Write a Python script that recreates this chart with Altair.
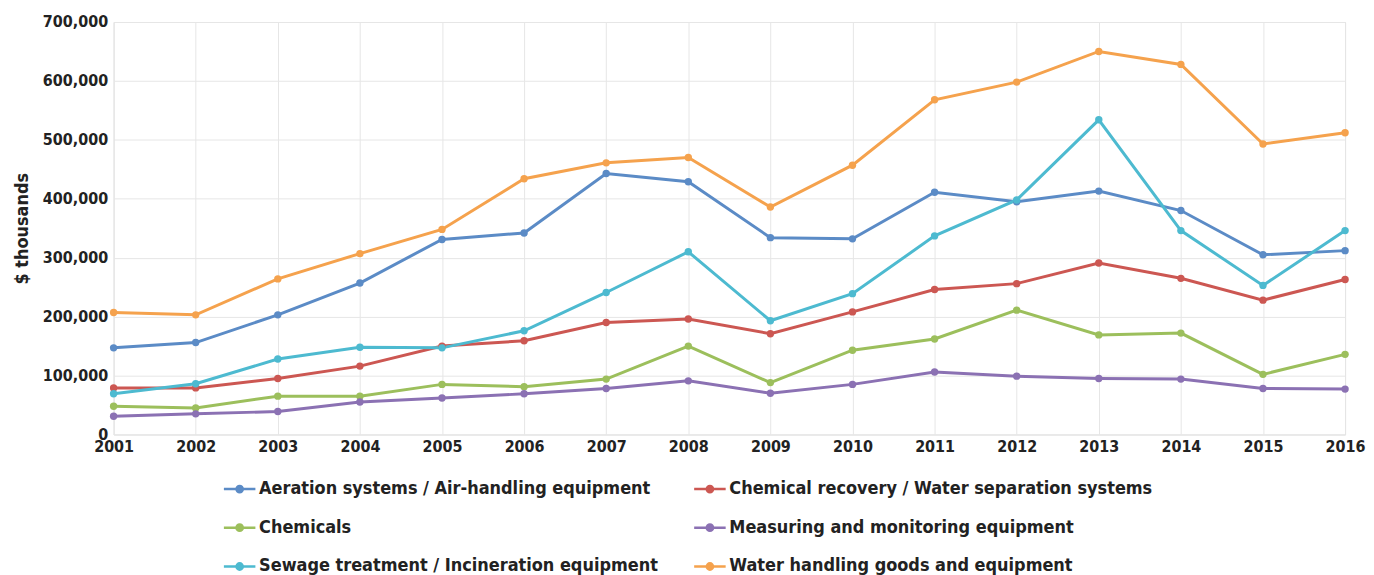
import altair as alt
import pandas as pd

years = list(range(2001, 2017))
series_names = [
    "Aeration systems / Air-handling equipment",
    "Chemical recovery / Water separation systems",
    "Chemicals",
    "Measuring and monitoring equipment",
    "Sewage treatment / Incineration equipment",
    "Water handling goods and equipment",
]
aeration = [147000, 156000, 203000, 257000, 331000, 342000, 443000, 429000, 334000, 332000, 411000, 395000, 413000, 380000, 305000, 312000]
chem_recovery = [79000, 79000, 95000, 116000, 150000, 159000, 190000, 196000, 171000, 208000, 246000, 256000, 291000, 265000, 228000, 263000]
chemicals = [48000, 45000, 65000, 65000, 85000, 81000, 94000, 150000, 88000, 143000, 162000, 211000, 169000, 172000, 102000, 136000]
measuring = [31000, 35000, 39000, 55000, 62000, 69000, 78000, 91000, 70000, 85000, 106000, 99000, 95000, 94000, 78000, 77000]
sewage = [69000, 86000, 128000, 148000, 147000, 176000, 241000, 310000, 193000, 239000, 337000, 398000, 534000, 346000, 253000, 346000]
water = [207000, 203000, 264000, 307000, 348000, 434000, 461000, 470000, 386000, 457000, 568000, 598000, 650000, 628000, 493000, 512000]
colors = ["#5b8bc6", "#cc5752", "#9cbf5c", "#8b71b3", "#4dbad0", "#f5a24d"]
y_ticks = [0, 100000, 200000, 300000, 400000, 500000, 600000, 700000]

all_series = [aeration, chem_recovery, chemicals, measuring, sewage, water]
rows = []
for name, vals in zip(series_names, all_series):
    for y, v in zip(years, vals):
        rows.append({"Year": y, "Value": v, "Series": name})
df = pd.DataFrame(rows)

# legend is filled column by column, so order the domain to read row-wise
legend_order = [0, 2, 4, 1, 3, 5]
domain = [series_names[i] for i in legend_order]
rng = [colors[i] for i in legend_order]

FONT = "DejaVu Sans Condensed, Roboto, sans-serif"

color = alt.Color(
    "Series:N",
    scale=alt.Scale(domain=domain, range=rng),
    legend=alt.Legend(
        title=None,
        orient="none",
        legendX=109,
        legendY=451,
        padding=0,
        columns=2,
        columnPadding=30,
        rowPadding=12,
        labelFontSize=18,
        labelFont=FONT,
        labelFontWeight="bold",
        labelColor="#222222",
        labelLimit=600,
        symbolType="M-1,0L1,0M0.2,0A0.2,0.2,0,1,1,-0.2,0A0.2,0.2,0,1,1,0.2,0",
        symbolSize=1000,
        symbolStrokeWidth=2.5,
        labelOffset=2,
    ),
)

base = alt.Chart(df).encode(
    x=alt.X(
        "Year:Q",
        scale=alt.Scale(domain=[2001, 2016], nice=False, zero=False),
        axis=alt.Axis(
            title=None,
            values=years,
            format="d",
            labelFont=FONT,
            labelFontSize=16,
            labelFontWeight="bold",
            labelColor="#222222",
            labelPadding=4,
            ticks=False,
            domain=False,
            grid=True,
            gridColor="#e6e6e6",
            labelFlush=False,
        ),
    ),
    y=alt.Y(
        "Value:Q",
        scale=alt.Scale(domain=[0, 700000], nice=False),
        axis=alt.Axis(
            title="$ thousands",
            titleFont=FONT,
            titleFontSize=18,
            titleFontWeight="bold",
            titleColor="#222222",
            titlePadding=11,
            values=y_ticks,
            format=",d",
            labelFont=FONT,
            labelFontSize=16,
            labelFontWeight="bold",
            labelColor="#222222",
            labelPadding=6,
            ticks=False,
            domain=False,
            grid=True,
            gridColor="#e6e6e6",
        ),
    ),
    color=color,
)

lines = base.mark_line(strokeWidth=3)
points = base.mark_point(filled=True, size=55, opacity=1)

chart = (
    alt.layer(lines, points)
    .properties(
        width=1236,
        height=414,
        padding={"left": 5, "right": 0, "top": 5, "bottom": 0},
    )
    .configure_view(stroke=None)
    .configure(background="white")
)

chart.save("out.html", embed_options={"renderer": "svg", "actions": False})
